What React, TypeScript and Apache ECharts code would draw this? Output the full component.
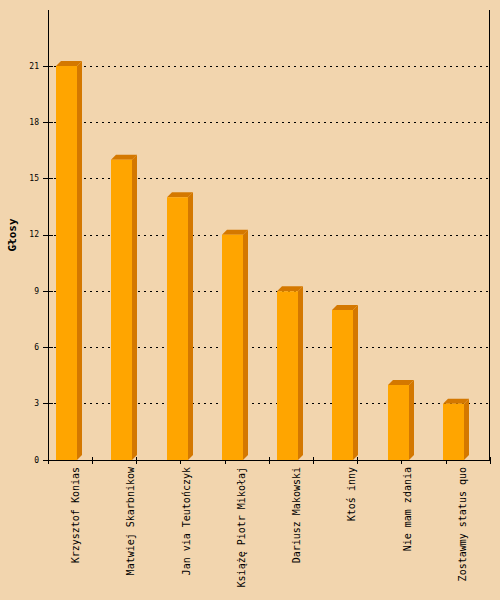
import React, { useEffect, useRef } from "react";
import * as echarts from "echarts";

const categories = [
  "Krzysztof Konias",
  "Matwiej Skarbnikow",
  "Jan via Teutończyk",
  "Książę Piotr Mikołaj",
  "Dariusz Makowski",
  "Ktoś inny",
  "Nie mam zdania",
  "Zostawmy status quo",
];
const votes = [21, 16, 14, 12, 9, 8, 4, 3];
const yTitle = "Głosy";

const FONT = '"DejaVu Sans Mono", monospace';

export default function App() {
  const ref = useRef<HTMLDivElement>(null);
  useEffect(() => {
    if (!ref.current) return;
    const chart = echarts.init(ref.current, undefined, { renderer: "svg" });
    const option: any = {
      animation: false,
      backgroundColor: "#F2D5AE",
      grid: { left: 48, right: 10, top: 66, bottom: 140 },
      xAxis: [
        {
          type: "category",
          data: categories,
          boundaryGap: true,
          axisLine: { show: true, lineStyle: { color: "#000", width: 1 } },
          axisTick: { show: false },
          splitLine: { show: false },
          axisLabel: {
            rotate: 90,
            interval: 0,
            margin: 7,
            fontSize: 10,
            fontFamily: FONT,
            color: "#000",
          },
        },
        {
          type: "value",
          min: 0,
          max: 10,
          interval: 1,
          position: "bottom",
          axisLine: { show: false },
          axisLabel: { show: false },
          splitLine: { show: false },
          axisTick: { show: true, length: 4, lineStyle: { color: "#000" } },
        },
        {
          type: "value",
          min: 0,
          max: 10,
          interval: 1,
          position: "bottom",
          axisLine: { show: false },
          axisLabel: { show: false },
          splitLine: { show: false },
          axisTick: { show: true, inside: true, length: 3, lineStyle: { color: "#000" } },
        },
      ],
      yAxis: [
        {
          type: "value",
          min: 0,
          max: 21,
          interval: 3,
          axisLine: { show: false },
          axisTick: { show: true, length: 5, lineStyle: { color: "#000" } },
          axisLabel: {
            margin: 9,
            fontSize: 8,
            fontFamily: FONT,
            color: "#000",
          },
          splitLine: {
            show: true,
            lineStyle: { color: "#000", width: 1, type: [2, 4] },
          },
        },
        {
          type: "value",
          min: 0,
          max: 21,
          interval: 3,
          position: "left",
          axisLine: { show: false },
          axisLabel: { show: false },
          splitLine: { show: false },
          axisTick: { show: true, inside: true, length: 5, lineStyle: { color: "#000" } },
        },
      ],
      graphic: [
        {
          type: "line",
          shape: { x1: 48.5, y1: 10, x2: 48.5, y2: 460 },
          style: { stroke: "#000", lineWidth: 1 },
          z: 10,
        },
        {
          type: "line",
          shape: { x1: 489.5, y1: 10, x2: 489.5, y2: 460 },
          style: { stroke: "#000", lineWidth: 1 },
          z: 10,
        },
        {
          type: "text",
          x: 12,
          y: 235,
          rotation: Math.PI / 2,
          style: {
            text: yTitle,
            font: 'bold 11px "DejaVu Sans Mono", monospace',
            fill: "#000",
            textAlign: "center",
            textVerticalAlign: "middle",
          },
        },
      ],
      series: [
        {
          type: "custom",
          xAxisIndex: 0,
          yAxisIndex: 0,
          encode: { x: 0, y: 1 },
          data: votes.map((v, i) => [i, v]),
          renderItem: (params: any, api: any) => {
            const idx = api.value(0);
            const val = api.value(1);
            const top = api.coord([idx, val]);
            const base = api.coord([idx, 0]);
            const w = api.size([1, 0])[0];
            const fw = w * 0.38;
            const x0 = Math.round(top[0] - w / 2 + w * 0.145);
            const x1 = x0 + Math.round(fw);
            const d = 5;
            const yt = top[1];
            const yb = base[1];
            return {
              type: "group",
              children: [
                {
                  type: "polygon",
                  shape: {
                    points: [
                      [x1, yt],
                      [x1 + d, yt - d],
                      [x1 + d, yb - d],
                      [x1, yb],
                    ],
                  },
                  style: { fill: "#D47800" },
                },
                {
                  type: "polygon",
                  shape: {
                    points: [
                      [x0, yt],
                      [x0 + d, yt - d],
                      [x1 + d, yt - d],
                      [x1, yt],
                    ],
                  },
                  style: { fill: "#D47800" },
                },
                {
                  type: "rect",
                  shape: { x: x0, y: yt, width: x1 - x0, height: yb - yt },
                  style: { fill: "#FFA500" },
                },
              ],
            };
          },
          z: 5,
        },
      ],
    };
    chart.setOption(option);
    return () => chart.dispose();
  }, []);
  return (
    <div
      ref={ref}
      style={{ position: "fixed", left: 0, top: 0, width: 500, height: 600 }}
    />
  );
}
